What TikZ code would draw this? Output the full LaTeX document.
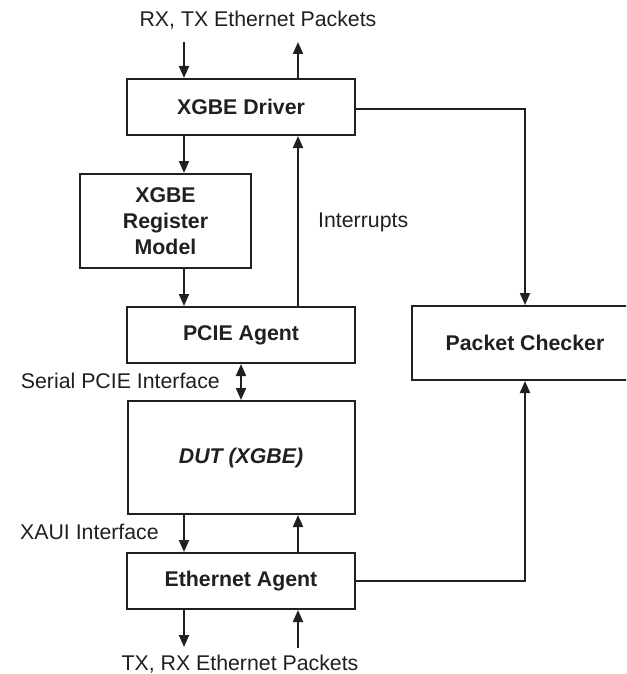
\documentclass[tikz,border=0pt]{standalone}
\usepackage{fontspec}
\setmainfont{Liberation Sans}
\usetikzlibrary{arrows.meta}
\definecolor{ink}{HTML}{202020}
\tikzset{
  box/.style={draw=ink, line width=2pt, fill=white, inner sep=0pt, align=center,
    font=\fontsize{21.3}{26}\selectfont\bfseries, text=ink},
  lbl/.style={inner sep=0pt, font=\fontsize{21.3}{26}\selectfont, text=ink},
  conn/.style={draw=ink, line width=2pt},
  arr/.style={conn, -{Triangle[length=12pt,width=10pt]}},
  darr/.style={conn, {Triangle[length=12pt,width=10pt]}-{Triangle[length=12pt,width=10pt]}}
}
\begin{document}
\begin{tikzpicture}[x=1pt,y=-1pt]
\useasboundingbox (0,0) rectangle (626,674);
\clip (0,0) rectangle (626,674);
\fill[white] (0,0) rectangle (626,674);

\node[box, minimum width=228pt, minimum height=56pt] (drv) at (241,107) {XGBE Driver};
\node[box, minimum width=171pt, minimum height=94pt] (reg) at (165.5,221) {XGBE\\Register\\Model};
\node[box, minimum width=228pt, minimum height=56pt] (pcie) at (241,335) {PCIE Agent};
\node[box, minimum width=226pt, minimum height=74pt] (chk) at (525,343) {Packet Checker};
\node[box, minimum width=227pt, minimum height=113pt, font=\fontsize{21.3}{26}\selectfont\bfseries\itshape] (dut) at (241,457.5) {DUT (XGBE)};
\node[box, minimum width=228pt, minimum height=56pt] (eth) at (241,581) {Ethernet Agent};

\coordinate (tin) at (184,42);
\coordinate (tout) at (298,42);
\coordinate (bout) at (184,647);
\coordinate (bin) at (298,648);

\node[lbl] (toplbl) at (258,20) {RX, TX Ethernet Packets};
\node[lbl] (botlbl) at (240,664) {TX, RX Ethernet Packets};
\node[lbl, anchor=west] (intlbl) at (318,222) {Interrupts};
\node[lbl, anchor=east] (serlbl) at (220,381) {Serial PCIE Interface};
\node[lbl, anchor=west] (xauilbl) at (20,532) {XAUI Interface};

\draw[arr] (tin) -- (drv.north -| tin);
\draw[arr] (drv.north -| tout) -- (tout);
\draw[arr] (drv.south -| tin) -- (reg.north -| tin);
\draw[arr] (reg.south -| tin) -- (pcie.north -| tin);
\draw[arr] (pcie.north -| tout) -- (drv.south -| tout);
\draw[arr] ([yshift=-2pt]drv.east) -| (chk.north);
\draw[darr] (pcie.south) -- (dut.north);
\draw[arr] (dut.south -| tin) -- (eth.north -| tin);
\draw[arr] (eth.north -| tout) -- (dut.south -| tout);
\draw[arr] (eth.east) -| (chk.south);
\draw[arr] (eth.south -| tin) -- (bout);
\draw[arr] (bin) -- (eth.south -| tout);
\end{tikzpicture}
\end{document}
